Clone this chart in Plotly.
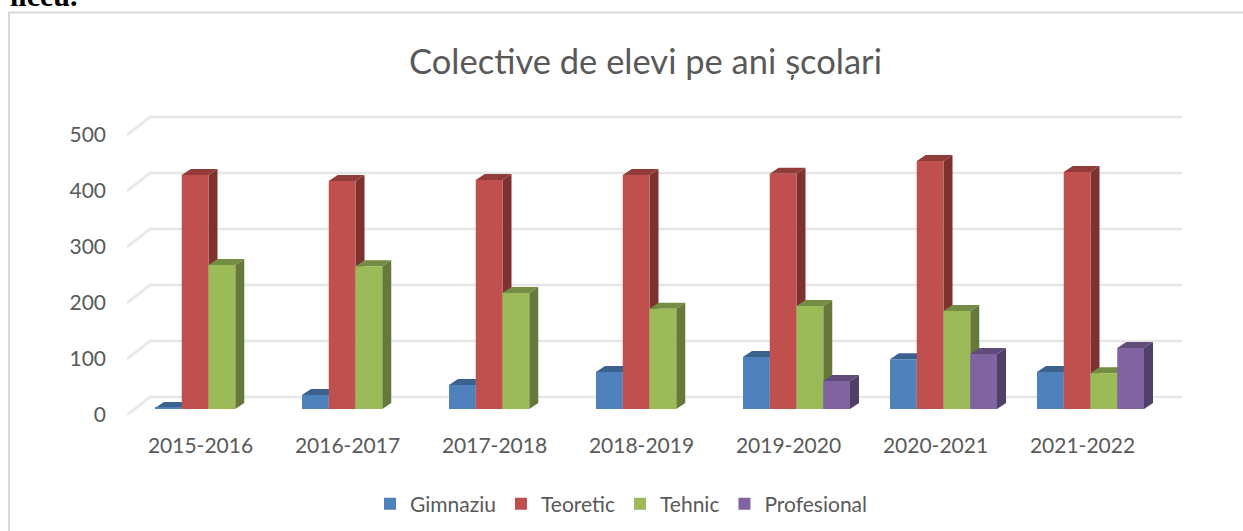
import plotly.graph_objects as go

categories = ["2015-2016", "2016-2017", "2017-2018", "2018-2019", "2019-2020", "2020-2021", "2021-2022"]
gimnaziu = [2, 25, 43, 66, 93, 89, 66]
teoretic = [418, 407, 409, 418, 420, 443, 423]
tehnic = [257, 255, 207, 179, 184, 175, 64]
profesional = [None, None, None, None, 50, 98, 109]
series_names = ["Gimnaziu", "Teoretic", "Tehnic", "Profesional"]
series_values = [gimnaziu, teoretic, tehnic, profesional]
y_ticks = [0, 100, 200, 300, 400, 500]

front_colors = ["#4F81BD", "#C0504D", "#9BBB59", "#8064A2"]
side_colors = ["#2F4D71", "#7D3230", "#65793A", "#503F66"]
top_colors = ["#3B618E", "#913C3A", "#748C43", "#604B7A"]

W, H = 1243, 531
L, R, T, B = 127, 1182, 110, 415
PX_X = 147.0
PX_Y = 0.56
x_low = -0.5
x_high = x_low + (R - L) / PX_X
y_high = (B - T) / PX_Y

grid_dx, grid_dy = 23 / PX_X, 18 / PX_Y
bar_x_off, bar_base = 8 / PX_X, 6 / PX_Y
depth_x, depth_y = 9 / PX_X, 6 / PX_Y
bargap = 0.272
bar_w = (1 - bargap) / 4

px = lambda p: (p - L) / (R - L)
py = lambda p: (B - p) / (B - T)

traces = []
gx, gy = [], []
for v in y_ticks:
    gx += [x_low, x_low + grid_dx, x_high, None]
    gy += [v, v + grid_dy, v + grid_dy, None]
traces.append(go.Scatter(x=gx, y=gy, mode="lines", line=dict(color="#E6E6E6", width=2.5),
                         showlegend=False, hoverinfo="skip", cliponaxis=False))

for s, vals in enumerate(series_values):
    sx, sy, tx, ty = [], [], [], []
    for i, v in enumerate(vals):
        if v is None:
            continue
        left = i + bar_x_off + (s - 2) * bar_w
        right = left + bar_w
        top = bar_base + v
        sx += [right, right, right + depth_x, right + depth_x, right, None]
        sy += [bar_base, top, top + depth_y, bar_base + depth_y, bar_base, None]
        tx += [left, right, right + depth_x, left + depth_x, left, None]
        ty += [top, top, top + depth_y, top + depth_y, top, None]
    traces.append(go.Scatter(x=sx, y=sy, mode="lines", fill="toself", fillcolor=side_colors[s],
                             line=dict(width=0, color=side_colors[s]), showlegend=False, hoverinfo="skip"))
    traces.append(go.Scatter(x=tx, y=ty, mode="lines", fill="toself", fillcolor=top_colors[s],
                             line=dict(width=0, color=top_colors[s]), showlegend=False, hoverinfo="skip"))

for s, vals in enumerate(series_values):
    traces.append(go.Bar(x=[i + bar_x_off for i in range(len(categories))], y=vals, base=bar_base,
                         name=series_names[s], marker=dict(color=front_colors[s], line=dict(width=0)),
                         xaxis="x2", yaxis="y2"))

fig = go.Figure(traces)
font = "Lato"
gray = "#595959"
fig.update_layout(
    width=W, height=H, margin=dict(l=L, r=W - R, t=T, b=H - B, autoexpand=False),
    paper_bgcolor="white", plot_bgcolor="white", barmode="group", bargap=bargap, bargroupgap=0,
    font=dict(family=font, size=21, color=gray),
    title=dict(text="Colective de elevi pe ani școlari", x=645.5 / W, xanchor="center",
               y=1 - 62 / H, yanchor="middle", font=dict(family=font, size=34.5, color=gray)),
    xaxis=dict(range=[x_low, x_high], tickmode="array", tickvals=list(range(len(categories))),
               ticktext=categories, showgrid=False, zeroline=False, showline=False, ticks="",
               ticklabelstandoff=16),
    yaxis=dict(range=[0, y_high], tickmode="array", tickvals=y_ticks, showgrid=False, zeroline=False,
               showline=False, ticks="", ticklabelstandoff=20),
    xaxis2=dict(range=[x_low, x_high], overlaying="x", visible=False),
    yaxis2=dict(range=[0, y_high], overlaying="y", visible=False),
    legend=dict(orientation="h", x=px(370), y=py(504), yanchor="middle", xanchor="left",
                font=dict(family=font, size=21, color=gray), bgcolor="rgba(0,0,0,0)"),
    annotations=[dict(text="<b>liceu.</b>", xref="paper", yref="paper",
                      x=px(10), y=py(12), xanchor="left", yanchor="bottom",
                      showarrow=False, font=dict(family="Liberation Serif", size=30, color="black"),
                      borderpad=0, borderwidth=0)],
)
fig.add_shape(type="rect", xref="paper", yref="paper", x0=px(9), x1=px(1260), y0=py(12.5), y1=py(540),
              line=dict(color="#D9D9D9", width=2), layer="below")
fig.write_html("out.html", config=dict(displayModeBar=False), post_script="document.body.style.margin='0';")
